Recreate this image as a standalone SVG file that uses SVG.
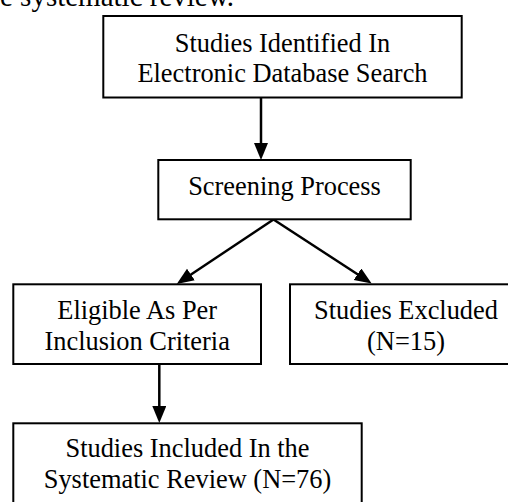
<svg xmlns="http://www.w3.org/2000/svg" width="508" height="502" viewBox="0 0 508 502">
<defs>
<style>
.box{fill:#fff;stroke:#000;stroke-width:2}
.t{font-family:"Liberation Serif","Times New Roman",serif;font-size:26.4px;fill:#000;text-anchor:middle}
.c{fill:none;stroke:#000;stroke-width:2.5}
</style>
<marker id="ah" markerUnits="userSpaceOnUse" markerWidth="18" markerHeight="15" refX="12" refY="7" orient="auto">
<path d="M0,0 L17,7 L0,14 z" fill="#000"/>
</marker>
</defs>
<rect width="508" height="502" fill="#fff"/>
<text x="0" y="6" style="font-family:'Liberation Serif','Times New Roman',serif;font-size:29px;fill:#000">e systematic review.</text>
<g id="connectors">
<path class="c" d="M261,98 L261,155" marker-end="url(#ah)"/>
<path class="c" d="M273.5,219.5 L180.9,281.2" marker-end="url(#ah)"/>
<path class="c" d="M273.5,219.5 L367.5,280.8" marker-end="url(#ah)"/>
<path class="c" d="M159.3,364 L159.3,418" marker-end="url(#ah)"/>
</g>
<g id="n1">
<rect class="box" x="103.3" y="16" width="358.4" height="81.5"/>
<text class="t" x="282.5" y="51.7">Studies Identified In</text>
<text class="t" x="282.5" y="81.7">Electronic Database Search</text>
</g>
<g id="n2">
<rect class="box" x="158.3" y="160" width="252.4" height="59.3"/>
<text class="t" x="284.5" y="195">Screening Process</text>
</g>
<g id="n3">
<rect class="box" x="13.3" y="284.3" width="247.7" height="79.7"/>
<text class="t" x="137.2" y="319.3">Eligible As Per</text>
<text class="t" x="137.2" y="350">Inclusion Criteria</text>
</g>
<g id="n4">
<rect class="box" x="290" y="284.3" width="232" height="79.7"/>
<text class="t" x="406" y="319.3">Studies Excluded</text>
<text class="t" x="406" y="350">(N=15)</text>
</g>
<g id="n5">
<rect class="box" x="13.3" y="423.3" width="348.4" height="90"/>
<text class="t" x="187.5" y="457.3">Studies Included In the</text>
<text class="t" x="187.5" y="488.3">Systematic Review (N=76)</text>
</g>
</svg>
